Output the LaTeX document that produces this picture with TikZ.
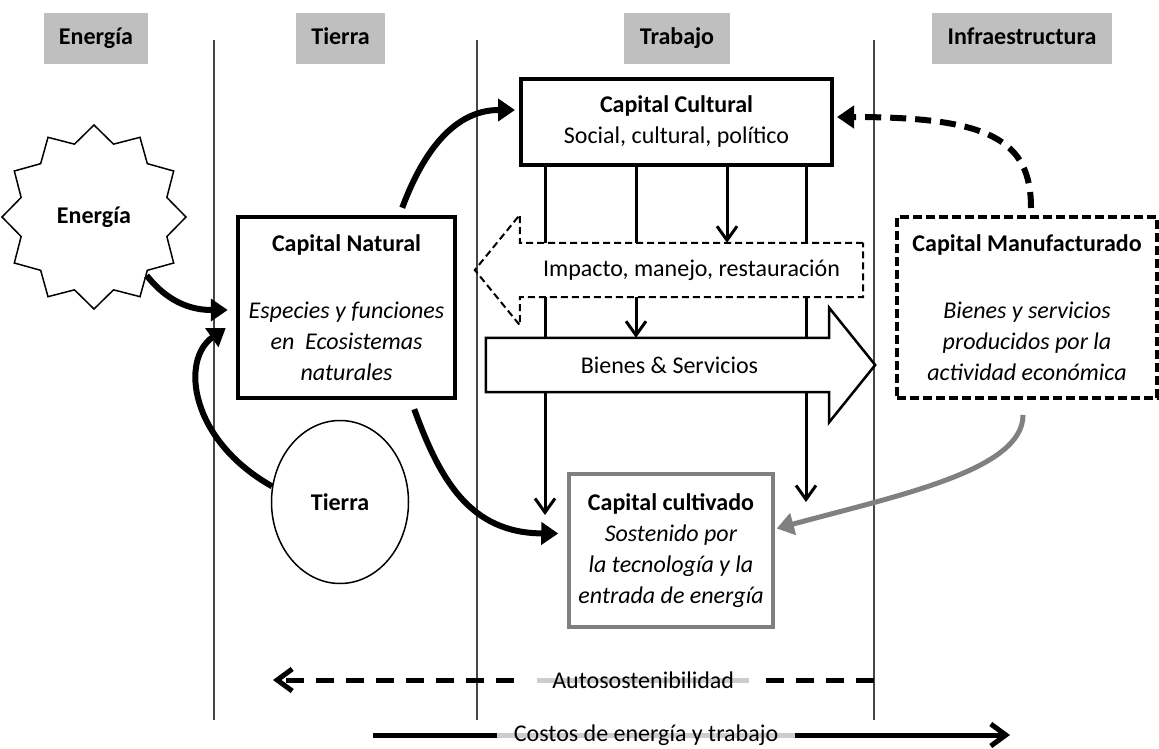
\documentclass[tikz,border=0pt]{standalone}
\usepackage{fontspec}
\setmainfont{Carlito}
\usetikzlibrary{arrows.meta,shapes.geometric,backgrounds}
\definecolor{headgray}{RGB}{191,191,191}
\definecolor{sepgray}{RGB}{70,70,70}
\definecolor{cultgray}{RGB}{128,128,128}
\definecolor{lblgray}{RGB}{205,205,205}

\begin{document}
\begin{tikzpicture}[x=1pt,y=-1pt,font=\fontsize{24}{31}\selectfont,
    head/.style={fill=headgray,font=\fontsize{24}{31}\selectfont\bfseries,minimum height=51pt,inner sep=0pt,text height=16pt,text depth=4pt},
    capbox/.style={draw,line width=4pt,fill=white,align=center,inner sep=0pt},
    blockbody/.style={fill=white,minimum width=343pt,minimum height=54pt,inner sep=0pt},
    bigflow/.style={line width=6pt,-{Triangle[length=17pt,width=22pt]}},
    downflow/.style={line width=3pt,-{Straight Barb[length=14pt,width=20pt]}},
    baseflow/.style={line width=5pt,-{Straight Barb[length=15pt,width=22pt]}},
    sepline/.style={sepgray,line width=1.5pt},
    bandlabel/.style={fill=white,inner ysep=3pt,
      path picture={\draw[solid,-,line width=5pt,lblgray] ([xshift=#1]path picture bounding box.west) -- ([xshift=-#1]path picture bounding box.east);}}]

\useasboundingbox (0,0) rectangle (1159,749);

% column heads
\node[head,minimum width=104pt] (hEnergia) at (96,38.5) {Energía};
\node[head,minimum width=89pt] (hTierra) at (340.5,38.5) {Tierra};
\node[head,minimum width=106pt] (hTrabajo) at (677,38.5) {Trabajo};
\node[head,minimum width=180pt] (hInfra) at (1022,38.5) {Infraestructura};

% stocks
\node[star,star points=12,star point ratio=1.22,minimum size=184pt,draw,line width=1.5pt,fill=white,inner sep=0pt,font=\fontsize{24}{31}\selectfont\bfseries] (energia) at (94,217) {Energía};
\node[capbox,line width=4.5pt,minimum width=217pt,minimum height=181pt] (natural) at (346.5,307.5)
  {\textbf{Capital Natural}\\[36pt]\textit{Especies y funciones}\\\textit{en~ Ecosistemas}\\\textit{naturales}};
\node[ellipse,draw,line width=1.5pt,minimum width=137pt,minimum height=163pt,inner sep=0pt,font=\fontsize{24}{31}\selectfont\bfseries] (tierra) at (340,502) {Tierra};
\node[capbox,minimum width=311pt,minimum height=86pt] (cultural) at (676.5,122) {\textbf{Capital Cultural}\\Social, cultural, político};
\node[capbox,dash pattern=on 9pt off 4pt,minimum width=260pt,minimum height=181pt] (manuf) at (1027,307.5)
  {\textbf{Capital Manufacturado}\\[36pt]\textit{Bienes y servicios}\\\textit{producidos por la}\\\textit{actividad económica}};
\node[capbox,draw=cultgray,line width=3.5pt,minimum width=204pt,minimum height=153pt] (cultivado) at (671,550.5)
  {\textbf{Capital cultivado}\\\textit{Sostenido por}\\\textit{la tecnología y la}\\\textit{entrada de energía}};

% block arrows
\node[blockbody] (impacto) at (691.5,270) {Impacto, manejo, restauración};
\draw[line width=2pt,dash pattern=on 7pt off 4pt] (impacto.north east) -- (impacto.north west) -- ([yshift=28pt]impacto.north west)
  -- ([xshift=-45pt]impacto.west) -- ([yshift=-28pt]impacto.south west) -- (impacto.south west) -- (impacto.south east) -- cycle;
\node[blockbody] (bienes) at (657.5,365) {\hspace*{24pt}Bienes \& Servicios};
\draw[line width=2.5pt] (bienes.north west) -- (bienes.north east) -- ([yshift=30pt]bienes.north east)
  -- ([xshift=46pt]bienes.east) -- ([yshift=-30pt]bienes.south east) -- (bienes.south east) -- (bienes.south west) -- cycle;

% drops from Capital Cultural
\coordinate (c1) at (545,515);
\coordinate (c2) at (636,300);
\coordinate (c3) at (727,250);
\coordinate (c4) at (806,502);
\draw[line width=3pt] (cultural.south -| c2) -- (impacto.north -| c2);
\draw[downflow] (cultural.south -| c3) -- (impacto.north -| c3);
\draw[downflow] (impacto.south -| c2) -- (bienes.north -| c2);

\begin{pgfonlayer}{background}
  \draw[sepline] (214,40) -- (214,720);
  \draw[sepline] (477,40) -- (477,720);
  \draw[sepline] (874,40) -- (874,720);
  \draw[downflow] (cultural.south -| c1) -- (c1);
  \draw[downflow] (cultural.south -| c4) -- (c4);
\end{pgfonlayer}

% flows
\draw[bigflow] (energia.-48) .. controls (170,305) and (195,310) .. ([shift={(-8pt,-2.5pt)}]natural.west);
\draw[bigflow] (tierra.167) .. controls (190,440) and (180,360) .. ([shift={(-10pt,-20.5pt)}]natural.west);
\draw[bigflow] ([shift={(-55pt,7pt)}]natural.north east) .. controls (420,160) and (450,110) .. ([shift={(-4pt,12pt)}]cultural.west);
\draw[bigflow] ([shift={(-43pt,-9pt)}]natural.south east) .. controls (440,480) and (470,533) .. ([shift={(-9pt,17pt)}]cultivado.west);
\draw[bigflow,dash pattern=on 16pt off 9pt] ([shift={(4pt,7pt)}]manuf.north) .. controls (1031,140) and (990,117) .. ([shift={(3pt,5pt)}]cultural.east);
\draw[bigflow,cultgray,line width=5pt] ([shift={(-4pt,-15pt)}]manuf.south) .. controls (1023,470) and (900,495) .. ([shift={(2pt,22pt)}]cultivado.east);

% bottom scales
\coordinate (autoR) at (874,680);
\coordinate (autoL) at (273,680);
\draw[baseflow,dash pattern=on 18pt off 12pt] (autoR) -- node[pos=0.384,bandlabel=13pt,inner xsep=28pt] (autolbl) {Autosostenibilidad} (autoL);
\coordinate (costL) at (373,735);
\coordinate (costR) at (1010,735);
\draw[baseflow] (costL) -- node[pos=0.4286,bandlabel=0pt,inner xsep=17pt] (costlbl) {Costos de energía y trabajo} (costR);

\end{tikzpicture}
\end{document}
